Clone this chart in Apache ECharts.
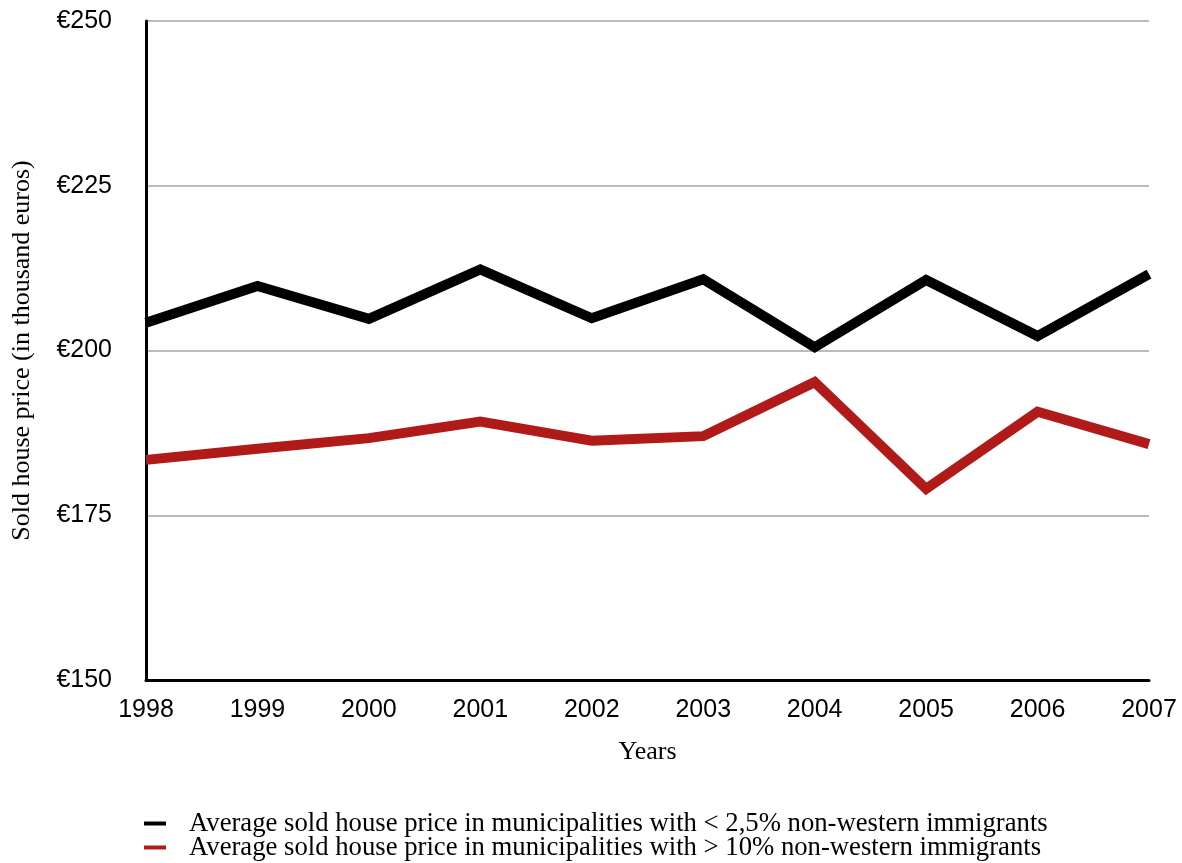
<!DOCTYPE html>
<html><head><meta charset="utf-8">
<script src="https://cdn.jsdelivr.net/npm/echarts@6/dist/echarts.min.js"></script>
<style>html,body{margin:0;padding:0;background:#fff}#c{width:1182px;height:863px}</style>
</head><body><div id="c"></div>
<script>
const years = ['1998','1999','2000','2001','2002','2003','2004','2005','2006','2007'];
const lowImmigrants = [204.2, 209.8, 204.8, 212.3, 204.9, 210.8, 200.5, 210.7, 202.2, 211.6];
const highImmigrants = [183.4, 185.1, 186.7, 189.2, 186.3, 187.0, 195.2, 179.0, 190.7, 185.8];
const nameLow = 'Average sold house price in municipalities with < 2,5% non-western immigrants';
const nameHigh = 'Average sold house price in municipalities with > 10% non-western immigrants';

const legendText = {fontFamily:'Liberation Serif', fontSize:26.7, color:'#000', lineHeight:24, padding:[0,0,0,18]};
const chart = echarts.init(document.getElementById('c'), null, {renderer:'canvas'});
chart.setOption({
  animation:false,
  backgroundColor:'#fff',
  grid:{left:146, right:33, top:21, bottom:183, containLabel:false},
  legend:[
    {left:144, top:810, padding:0, icon:'rect', itemWidth:22, itemHeight:4, textStyle:legendText, data:[nameLow]},
    {left:144, top:834, padding:0, icon:'rect', itemWidth:22, itemHeight:4, textStyle:legendText, data:[nameHigh]}
  ],
  xAxis:{
    type:'category', data:years, boundaryGap:false,
    name:'Years', nameLocation:'middle', nameGap:59,
    nameTextStyle:{fontFamily:'Liberation Serif', fontSize:26, color:'#000'},
    axisLine:{lineStyle:{color:'#000', width:3}},
    axisTick:{show:false},
    axisLabel:{fontFamily:'Liberation Sans', fontSize:25, color:'#000', margin:18},
    splitLine:{show:false}
  },
  yAxis:{
    type:'value', min:150, max:250, interval:25,
    name:'Sold house price (in thousand euros)', nameLocation:'middle', nameGap:111, nameRotate:90,
    nameTextStyle:{fontFamily:'Liberation Serif', fontSize:26, color:'#000'},
    axisLine:{show:true, lineStyle:{color:'#000', width:3}},
    axisTick:{show:false},
    axisLabel:{fontFamily:'Liberation Sans', fontSize:25, color:'#000', margin:34, formatter:v=>'€'+v},
    splitLine:{lineStyle:{color:'#bbbbbb', width:2}}
  },
  series:[
    {name:nameLow, type:'line', data:lowImmigrants, symbol:'none', color:'#000',
     lineStyle:{width:10, color:'#000', join:'miter'}},
    {name:nameHigh, type:'line', data:highImmigrants, symbol:'none', color:'#b01a18',
     lineStyle:{width:10, color:'#b01a18', join:'miter'}}
  ]
});
</script></body></html>
